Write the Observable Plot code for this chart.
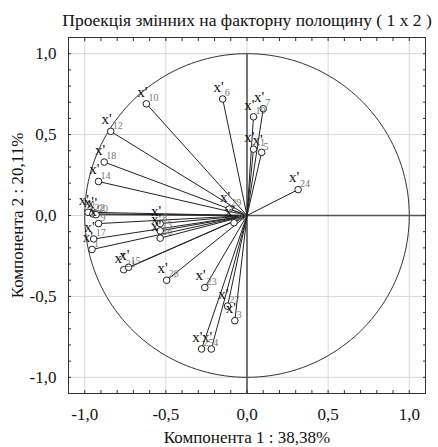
<!DOCTYPE html>
<html><head><meta charset="utf-8">
<script src="https://cdn.jsdelivr.net/npm/d3@7"></script>
<script src="https://cdn.jsdelivr.net/npm/@observablehq/plot@0.6"></script>
<style>body{margin:0;background:#fff}</style>
</head><body><div id="chart"></div>
<script>
const title = "Проекція змінних на факторну полощину ( 1 x 2 )";
const xLabel = "Компонента 1 : 38,38%";
const yLabel = "Компонента 2 : 20,11%";
const ids   = [10, 6, 12, 18, 14, 19, 7, 11, 5, 24, 2, 22, 20, 9, 17, 1, 8, 13, 16, 29, 30, 21, 15, 28, 23, 27, 3, 25, 4];
const comp1 = [-0.62, -0.15, -0.84, -0.88, -0.915, 0.04, 0.10, 0.04, 0.09, 0.315, -0.98, -0.95, -0.93, -0.915, -0.945, -0.955, -0.535, -0.535, -0.535, -0.11, -0.08, -0.76, -0.73, -0.495, -0.26, -0.12, -0.075, -0.28, -0.22];
const comp2 = [0.69, 0.72, 0.52, 0.33, 0.21, 0.61, 0.66, 0.41, 0.39, 0.16, 0.02, 0.01, 0.005, -0.05, -0.145, -0.21, -0.05, -0.095, -0.14, 0.04, -0.045, -0.335, -0.32, -0.40, -0.445, -0.56, -0.65, -0.825, -0.825];
const majorTicks = [-1, -0.5, 0, 0.5, 1];
const minorTicks = d3.range(-10, 11).map(i => i / 10);

const data = ids.map((id, i) => ({id, x: comp1[i], y: comp2[i]}));
const circle = d3.range(0, 361, 2).map(a => ({x: Math.cos(a * Math.PI / 180), y: Math.sin(a * Math.PI / 180)}));
const fmt = d => d.toFixed(1).replace(".", ",");
const font = "\"Liberation Serif\", \"Times New Roman\", Times, \"DejaVu Serif\", serif";

const chart = Plot.plot({
  width: 438, height: 447,
  marginLeft: 68, marginRight: 13, marginTop: 37, marginBottom: 54,
  x: {domain: [-1.1, 1.1]},
  y: {domain: [-1.1, 1.1]},
  style: {fontFamily: font, fontSize: "17px", background: "#fff", color: "#111"},
  marks: [
    Plot.gridX(majorTicks, {stroke: "#d8d8d8", strokeOpacity: 1}),
    Plot.gridY(majorTicks, {stroke: "#d8d8d8", strokeOpacity: 1}),
    Plot.line(circle, {x: "x", y: "y", stroke: "#333", strokeWidth: 1}),
    Plot.ruleX([0], {y1: -1.1, y2: 1, stroke: "#555", strokeWidth: 1.6}),
    Plot.ruleY([0], {x1: 0, x2: 1.1, stroke: "#555", strokeWidth: 1.6}),
    Plot.link(data, {x1: 0, y1: 0, x2: "x", y2: "y", stroke: "#222", strokeWidth: 1}),
    Plot.dot(data, {x: "x", y: "y", r: 3.3, stroke: "#222", fill: "#fff", strokeWidth: 1}),
    Plot.text(data, {x: "x", y: "y", text: () => "x'", textAnchor: "end", dx: 1, dy: -12, fontSize: 15, fill: "#111"}),
    Plot.text(data, {x: "x", y: "y", text: d => String(d.id), textAnchor: "start", dx: 2, dy: -6, fontSize: 10, fill: "#777"}),
    Plot.frame({stroke: "#333"}),
    Plot.axisX(minorTicks, {anchor: "bottom", tickSize: -3, text: null, label: null, stroke: "#333"}),
    Plot.axisX(minorTicks, {anchor: "top", tickSize: -3, text: null, label: null, stroke: "#333"}),
    Plot.axisY(minorTicks, {anchor: "left", tickSize: -3, text: null, label: null, stroke: "#333"}),
    Plot.axisY(minorTicks, {anchor: "right", tickSize: -3, text: null, label: null, stroke: "#333"}),
    Plot.axisX(majorTicks, {anchor: "bottom", tickSize: 0, tickPadding: 14, tickFormat: fmt, fontSize: 17,
      label: xLabel, labelAnchor: "center", labelOffset: 49, labelArrow: "none"}),
    Plot.axisY(majorTicks, {anchor: "left", tickSize: 0, tickPadding: 12, tickFormat: fmt, fontSize: 17,
      label: yLabel, labelAnchor: "center", labelOffset: 58, labelArrow: "none"}),
    Plot.text([title], {frameAnchor: "top", dy: -24, fontSize: 17.5, fill: "#111"})
  ]
});
document.getElementById("chart").appendChild(chart);
</script>
</body></html>
